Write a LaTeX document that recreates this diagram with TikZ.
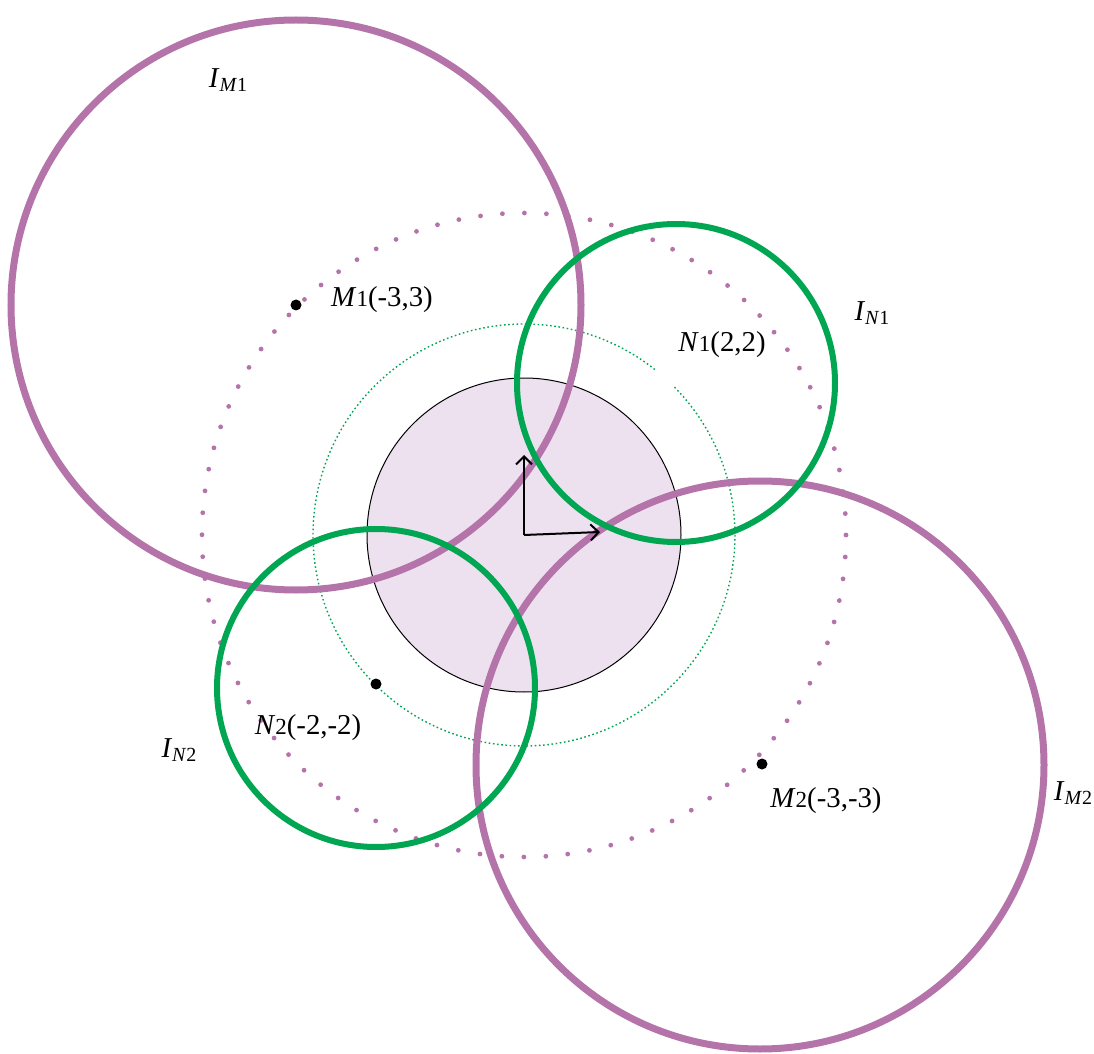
\documentclass[tikz,border=0pt]{standalone}
\usepackage{fontspec}
\setmainfont{Liberation Serif}
\usetikzlibrary{arrows.meta}
\definecolor{pinkc}{RGB}{180,116,170}
\definecolor{greenc}{RGB}{0,166,81}
\definecolor{fillc}{RGB}{237,225,239}
\newcommand{\lblsub}[1]{{\fontsize{11.5}{12}\selectfont #1}}
\newcommand{\lowsub}[1]{\raisebox{-0.35ex}{\fontsize{10}{11}\selectfont #1}}
\begin{document}
\begin{tikzpicture}[x=0.5pt,y=-0.5pt,
  bigcirc/.style={draw=pinkc, line width=3.5pt},
  ncirc/.style={draw=greenc, line width=3pt},
  lbl/.style={font=\fontsize{14.4}{16}\selectfont, inner sep=0pt},
  ptdot/.style={circle, fill=black, inner sep=0pt, minimum size=5.5pt},
  ax/.style={line width=1pt, -{Straight Barb[length=4pt,width=8pt]}}]
\useasboundingbox (0,0) rectangle (1094,1054);
\coordinate (O) at (524,535);
\coordinate (Xend) at (600,532);
\coordinate (Yend) at (524,455);
\coordinate (N1) at (676,383);
\coordinate (M1c) at (296,305);
\coordinate (M2c) at (760,765);
\coordinate (N2c) at (376,688);
% inner disc
\fill[fillc] (O) circle (157);
\draw[black, line width=0.5pt] (O) circle (157);
% green dotted circle with gap near N1
\draw[greenc, line width=0.7pt, dash pattern=on 0.8pt off 1.3pt]
  (O) ++(-44.5:211) arc[start angle=-44.5, end angle=308.5, radius=211];
% pink dotted circle
\draw[pinkc, line width=2.4pt, line cap=round, dash pattern=on 0pt off 11pt] (O) circle (322);
% big circles
\draw[bigcirc] (M1c) circle (285);
\draw[bigcirc] (M2c) circle (284);
\draw[ncirc] (N1) circle (159);
\draw[ncirc] (N2c) circle (159);
% axes
\draw[ax] (O) -- (Yend);
\draw[ax] (O) -- (Xend);
% dots on top
\node[ptdot] (M1) at (296,305) {};
\node[ptdot] (N2) at (376,684) {};
\node[ptdot] (M2) at (762,764) {};
% labels
\node[lbl] (lIM1) at (228,80) {\textit{I}\lowsub{\textit{M}1}};
\node[lbl] (lM1) at (382,300) {\textit{M}\lblsub{1}(-3,3)};
\node[lbl] (lN1) at (722,345) {\textit{N}\lblsub{1}(2,2)};
\node[lbl] (lIN1) at (872,313) {\textit{I}\lowsub{\textit{N}1}};
\node[lbl] (lIN2) at (179,750) {\textit{I}\lowsub{\textit{N}2}};
\node[lbl] (lN2) at (308,728) {\textit{N}\lblsub{2}(-2,-2)};
\node[lbl] (lM2) at (826,801) {\textit{M}\lblsub{2}(-3,-3)};
\node[lbl] (lIM2) at (1073,793) {\textit{I}\lowsub{\textit{M}2}};
\end{tikzpicture}
\end{document}
